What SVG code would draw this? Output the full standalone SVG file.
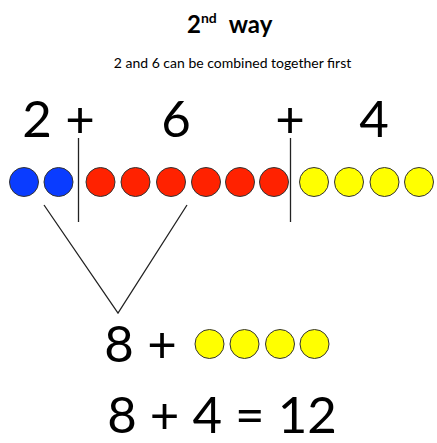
<svg xmlns="http://www.w3.org/2000/svg" width="437" height="443" viewBox="0 0 437 443">
<style>
.t{font-family:Lato,"Open Sans","DejaVu Sans",sans-serif;fill:#000}
.big{font-size:51px}
.dot{stroke:#333;stroke-width:1}
.b{fill:#0A3CFF}
.r{fill:#FF2200}
.y{fill:#FFFF00}
.ln{stroke:#222;stroke-width:1.3;fill:none}
</style>
<rect width="437" height="443" fill="#fff"/>
<g id="title">
<text class="t" x="187" y="33" font-size="24" font-weight="bold">2<tspan font-size="14" dy="-10">nd</tspan><tspan dy="10" dx="12">way</tspan></text>
</g>
<g id="subtitle">
<text class="t" x="232.5" y="68" font-size="14" text-anchor="middle">2 and 6 can be combined together first</text>
</g>
<g id="top-equation">
<text class="t big" x="37" y="137" text-anchor="middle">2</text>
<text class="t big" x="80" y="137" text-anchor="middle">+</text>
<text class="t big" x="176" y="137" text-anchor="middle">6</text>
<text class="t big" x="290" y="137" text-anchor="middle">+</text>
<text class="t big" x="374" y="137" text-anchor="middle">4</text>
</g>
<g id="blue-dots">
<circle class="dot b" cx="24" cy="182" r="14.5"/>
<circle class="dot b" cx="58.5" cy="182" r="14.5"/>
</g>
<g id="red-dots">
<circle class="dot r" cx="100.5" cy="182" r="14.5"/>
<circle class="dot r" cx="135.5" cy="182" r="14.5"/>
<circle class="dot r" cx="171" cy="182" r="14.5"/>
<circle class="dot r" cx="206" cy="182" r="14.5"/>
<circle class="dot r" cx="240" cy="182" r="14.5"/>
<circle class="dot r" cx="274" cy="182" r="14.5"/>
</g>
<g id="yellow-dots">
<circle class="dot y" cx="314" cy="182" r="14.5"/>
<circle class="dot y" cx="349" cy="182" r="14.5"/>
<circle class="dot y" cx="384.5" cy="182" r="14.5"/>
<circle class="dot y" cx="419" cy="182" r="14.5"/>
</g>
<g id="connectors">
<line class="ln" x1="78.5" y1="138" x2="78.5" y2="222"/>
<line class="ln" x1="290.5" y1="138" x2="290.5" y2="222"/>
<polyline class="ln" points="44,205 118,313 187,205"/>
</g>
<g id="middle-equation">
<text class="t big" x="119" y="362" text-anchor="middle">8</text>
<text class="t big" x="162" y="362" text-anchor="middle">+</text>
<circle class="dot y" cx="209.5" cy="344" r="14.5"/>
<circle class="dot y" cx="244.5" cy="344" r="14.5"/>
<circle class="dot y" cx="280" cy="344" r="14.5"/>
<circle class="dot y" cx="314.5" cy="344" r="14.5"/>
</g>
<g id="result">
<text class="t big" x="222" y="433" text-anchor="middle">8 + 4 = 12</text>
</g>
</svg>
